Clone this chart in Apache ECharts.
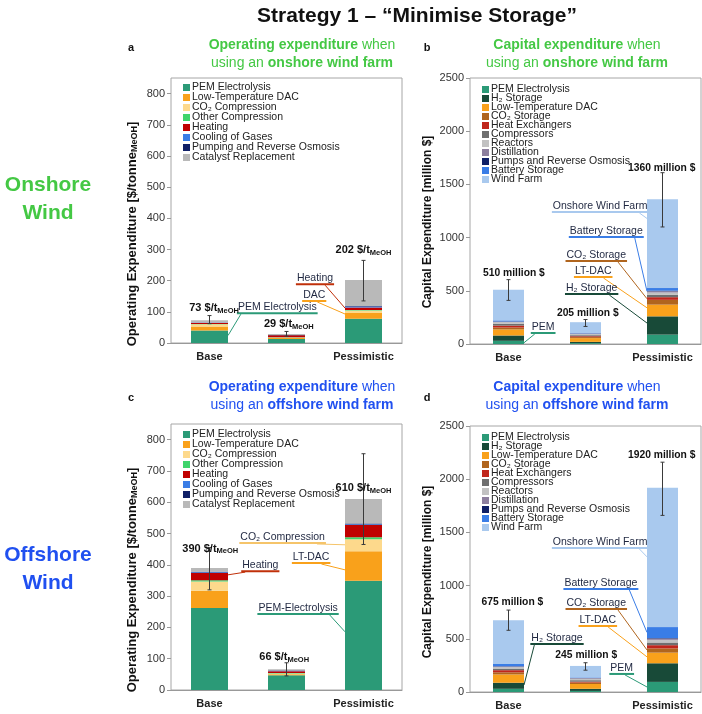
<!DOCTYPE html>
<html><head><meta charset="utf-8">
<script src="https://cdn.jsdelivr.net/npm/echarts@6/dist/echarts.min.js"></script>
<style>html,body{margin:0;padding:0;background:#fff}#c{width:702px;height:714px}</style>
</head><body><div id="c"></div>
<script>
// ---------------- DATA ----------------
const categories = ['Base', 'Optimistic', 'Pessimistic'];
const opexNames = ['PEM Electrolysis', 'Low-Temperature DAC', 'CO₂ Compression', 'Other Compression', 'Heating', 'Cooling of Gases', 'Pumping and Reverse Osmosis', 'Catalyst Replacement'];
const capexNames = ['PEM Electrolysis', 'H₂ Storage', 'Low-Temperature DAC', 'CO₂ Storage', 'Heat Exchangers', 'Compressors', 'Reactors', 'Distillation', 'Pumps and Reverse Osmosis', 'Battery Storage', 'Wind Farm'];

// (a) Opex, onshore wind, $/t MeOH — one row per opex component: [Base, Optimistic, Pessimistic]
const opexOnshore = [
  [40, 13, 78], [13, 3, 18], [7, 2, 8], [1, 0.5, 2],
  [3, 6, 8], [1, 0.5, 3], [1, 0.5, 2], [7, 3.5, 83]
];
// (c) Opex, offshore wind
const opexOffshore = [
  [262, 47, 349], [55, 3, 94], [30, 3, 39], [4, 1, 6],
  [23, 6, 39], [2, 1, 3], [2, 1, 2], [12, 4, 78]
];
// (b) Capex, onshore wind, million $ — one row per capex component
const capexOnshore = [
  [30, 8, 88], [50, 12, 172], [57, 35, 110], [18, 10, 45], [18, 8, 25], [18, 10, 22],
  [14, 12, 22], [4, 3, 12], [3, 2, 5], [10, 3, 25], [288, 102, 834]
];
// (d) Capex, offshore wind
const capexOffshore = [
  [30, 10, 95], [57, 20, 175], [78, 45, 100], [20, 14, 40], [20, 8, 30], [15, 14, 25],
  [14, 14, 25], [5, 5, 12], [3, 2, 5], [22, 5, 103], [411, 108, 1310]
];
// error bars [low, high]
const errOpexOnshore = [[62, 88], [22, 37], [135, 265]];
const errCapexOnshore = [[410, 605], [165, 230], [1100, 1610]];
const errOpexOffshore = [[320, 455], [45, 87], [465, 755]];
const errCapexOffshore = [[580, 770], [205, 275], [1660, 2160]];
// totals shown above bars
const totOpexOnshore = [73, 29, 202];
const totCapexOnshore = [510, 205, 1360];
const totOpexOffshore = [390, 66, 610];
const totCapexOffshore = [675, 245, 1920];
const opexTicks = [0, 100, 200, 300, 400, 500, 600, 700, 800];
const capexTicks = [0, 500, 1000, 1500, 2000, 2500];

// ---------------- STYLE ----------------
const FF = 'Liberation Sans, Arial, sans-serif';
const opexColors = ['#2b9a77', '#f9a11b', '#fdd98c', '#3fd46c', '#c00000', '#3a7de6', '#0f1f66', '#b9b9b9'];
const capexColors = ['#2b9a77', '#184a38', '#f9a11b', '#b0651e', '#c0261c', '#6f6f6f', '#c2c2c2', '#8d7f9e', '#0f1f66', '#3a7de6', '#a9c9ee'];
const GREEN = '#44c844', BLUE = '#2050f0';

const grids = [
  {left: 171, top: 78, width: 231, height: 265},
  {left: 470, top: 78, width: 231, height: 266},
  {left: 171, top: 424, width: 231, height: 266},
  {left: 470, top: 426, width: 231, height: 266}
];
const isOpex = [true, false, true, false];
const panelData = [opexOnshore, capexOnshore, opexOffshore, capexOffshore];
const panelErr = [errOpexOnshore, errCapexOnshore, errOpexOffshore, errCapexOffshore];
const barW = [37, 31, 37, 31];
const legendTop = [77, 79, 424, 427];

const series = [];
panelData.forEach((rows, g) => {
  const names = isOpex[g] ? opexNames : capexNames;
  const cols = isOpex[g] ? opexColors : capexColors;
  rows.forEach((vals, k) => {
    series.push({
      type: 'bar', name: names[k], xAxisIndex: g, yAxisIndex: g, stack: 'p' + g,
      barWidth: barW[g], data: vals, itemStyle: {color: cols[k]}, emphasis: {disabled: true}
    });
  });
  series.push({
    type: 'custom', xAxisIndex: g, yAxisIndex: g, z: 5,
    encode: {x: 0, y: [1, 2]},
    data: panelErr[g].map((e, j) => [j, e[0], e[1]]),
    renderItem: (params, api) => {
      const lo = api.coord([api.value(0), api.value(1)]);
      const hi = api.coord([api.value(0), api.value(2)]);
      const st = {stroke: '#3a3a3a', lineWidth: 1};
      return {type: 'group', children: [
        {type: 'line', shape: {x1: lo[0], y1: lo[1], x2: hi[0], y2: hi[1]}, style: st},
        {type: 'line', shape: {x1: lo[0] - 2, y1: lo[1], x2: lo[0] + 2, y2: lo[1]}, style: st},
        {type: 'line', shape: {x1: hi[0] - 2, y1: hi[1], x2: hi[0] + 2, y2: hi[1]}, style: st}
      ]};
    }
  });
});

const subRich = {s: {fontSize: 9, fontWeight: 'bold', fontFamily: FF, verticalAlign: 'bottom', lineHeight: 6}};
const subRichSmall = {s: {fontSize: 7.5, fontWeight: 'bold', fontFamily: FF, verticalAlign: 'bottom', lineHeight: 5}};

const option = {
  animation: false,
  grid: grids.map(g => Object.assign({show: true, borderColor: '#a6a6a6', borderWidth: 1, backgroundColor: 'transparent'}, g)),
  xAxis: grids.map((g, i) => ({
    type: 'category', gridIndex: i, data: categories,
    axisLine: {lineStyle: {color: '#999'}}, axisTick: {show: false},
    axisLabel: {fontFamily: FF, fontWeight: 'bold', fontSize: 11, color: '#222', margin: 8}
  })),
  yAxis: grids.map((g, i) => ({
    type: 'value', gridIndex: i, min: 0, max: isOpex[i] ? 850 : 2500, interval: isOpex[i] ? 100 : 500,
    splitLine: {show: false}, axisLine: {show: false},
    axisTick: {show: true, length: 4, lineStyle: {color: '#999'},
      customValues: isOpex[i] ? opexTicks : capexTicks},
    axisLabel: {fontFamily: FF, fontSize: 11, color: '#333', margin: 6, showMaxLabel: true,
      customValues: isOpex[i] ? opexTicks : capexTicks, formatter: v => String(v)}
  })),
  legend: grids.map((g, i) => ({
    orient: 'vertical', left: g.left + 7, top: legendTop[i],
    data: isOpex[i] ? opexNames : capexNames,
    icon: 'rect', itemWidth: 7, itemHeight: 7, itemGap: isOpex[i] ? -1 : -2,
    selectedMode: false,
    textStyle: {fontFamily: FF, fontSize: 10.5, color: '#222', lineHeight: isOpex[i] ? 10 : 9, padding: [0, 0, 0, -3]}
  })),
  series: series
};

const chart = echarts.init(document.getElementById('c'), null, {renderer: 'canvas'});
chart.setOption(option);

// ---------------- ANNOTATIONS ----------------
const ctx = document.createElement('canvas').getContext('2d');
function tw(font, s) { ctx.font = font; return ctx.measureText(s).width; }
function px(g, c, v) {
  const x0 = chart.convertToPixel({xAxisIndex: g}, categories[0]);
  const x1 = chart.convertToPixel({xAxisIndex: g}, categories[1]);
  const y = chart.convertToPixel({yAxisIndex: g}, v);
  return [x0 + c * (x1 - x0), y];
}
const gfx = [];
function txt(x, y, text, opts, rot) {
  gfx.push({type: 'text', x: x, y: y, rotation: rot || 0, silent: true, z: 100,
    style: Object.assign({text: text, fill: '#111', fontFamily: FF, fontSize: 12, align: 'center', verticalAlign: 'middle'}, opts)});
}
// main title
txt(417, 16, 'Strategy 1 – “Minimise Storage”', {fontSize: 21, fontWeight: 'bold'});
// panel letters
[['a', 131, 48], ['b', 427, 48], ['c', 131, 398], ['d', 427, 398]].forEach(p => txt(p[1], p[2], p[0], {fontSize: 11, fontWeight: 'bold'}));
// panel titles
function ptitle(x, y, kind, where, col) {
  txt(x, y, '{b|' + kind + '} when\nusing an {b|' + where + ' wind farm}', {
    fontSize: 14, fill: col, lineHeight: 18,
    rich: {b: {fontWeight: 'bold', fontSize: 14, fill: col, fontFamily: FF}}
  });
}
ptitle(302, 54, 'Operating expenditure', 'onshore', GREEN);
ptitle(577, 54, 'Capital expenditure', 'onshore', GREEN);
ptitle(302, 396, 'Operating expenditure', 'offshore', BLUE);
ptitle(577, 396, 'Capital expenditure', 'offshore', BLUE);
// side labels
txt(48, 199, 'Onshore\nWind', {fontSize: 21, fontWeight: 'bold', fill: GREEN, lineHeight: 28});
txt(48, 569, 'Offshore\nWind', {fontSize: 21, fontWeight: 'bold', fill: BLUE, lineHeight: 28});
// axis titles
const opexTitle = 'Operating Expenditure [$/tonne{s|MeOH}]';
const capexTitle = 'Capital Expenditure [million $]';
txt(132, 234, opexTitle, {fontSize: 13, fontWeight: 'bold', lineHeight: 15, rich: subRich}, Math.PI / 2);
txt(428, 222, capexTitle, {fontSize: 12, fontWeight: 'bold'}, Math.PI / 2);
txt(132, 580, opexTitle, {fontSize: 13, fontWeight: 'bold', lineHeight: 15, rich: subRich}, Math.PI / 2);
txt(428, 572, capexTitle, {fontSize: 12, fontWeight: 'bold'}, Math.PI / 2);

// totals
const totals = [totOpexOnshore, totCapexOnshore, totOpexOffshore, totCapexOffshore];
const totPos = [
  [[0.06, 112], [0.03, 61], [0.0, 298]],
  [[0.07, 667], [0.03, 291], [-0.01, 1654]],
  [[0.01, 452], [-0.03, 105], [0.0, 645]],
  [[0.05, 846], [0.01, 348], [-0.01, 2227]]
];
totals.forEach((arr, g) => arr.forEach((t, j) => {
  const p = px(g, j + totPos[g][j][0], totPos[g][j][1]);
  if (isOpex[g]) {
    txt(p[0], p[1], t + ' $/t{s|MeOH}', {fontSize: 11, fontWeight: 'bold', lineHeight: 13, rich: subRichSmall});
  } else {
    txt(p[0], p[1], t + ' million $', {fontSize: 10.3, fontWeight: 'bold'});
  }
}));

// callouts: panel, text, [cat, value] of text centre, colour, target [cat, value]
const callouts = [
  [0, 'PEM Electrolysis', [0.88, 115], opexColors[0], [0, 24]],
  [0, 'Heating', [1.37, 208], '#c0300a', [2, 112]],
  [0, 'DAC', [1.36, 154], opexColors[1], [2, 93]],
  [1, 'PEM', [0.45, 160], capexColors[0], [0, 12]],
  [1, 'H₂ Storage', [1.08, 526], capexColors[1], [2, 197]],
  [1, 'LT-DAC', [1.10, 686], capexColors[2], [2, 340]],
  [1, 'CO₂ Storage', [1.14, 836], capexColors[3], [2, 425]],
  [1, 'Battery Storage', [1.27, 1062], capexColors[9], [2, 495]],
  [1, 'Onshore Wind Farm', [1.19, 1297], capexColors[10], [2, 1180]],
  [2, 'Heating', [0.66, 399], '#c0300a', [0, 368]],
  [2, 'CO₂ Compression', [0.95, 489], '#f5c46a', [2, 464]],
  [2, 'LT-DAC', [1.32, 425], opexColors[1], [2, 384]],
  [2, 'PEM-Electrolysis', [1.15, 262], opexColors[0], [2, 186]],
  [3, 'H₂ Storage', [0.63, 507], capexColors[1], [0, 66]],
  [3, 'PEM', [1.47, 226], capexColors[0], [2, 47]],
  [3, 'LT-DAC', [1.16, 677], capexColors[2], [2, 330]],
  [3, 'CO₂ Storage', [1.14, 836], capexColors[3], [2, 395]],
  [3, 'Battery Storage', [1.20, 1024], capexColors[9], [2, 560]],
  [3, 'Onshore Wind Farm', [1.19, 1410], capexColors[10], [2, 1270]]
];
const CF = '10.5px Liberation Sans';
callouts.forEach(c => {
  const [g, text, pos, col, tgt] = c;
  const p = px(g, pos[0], pos[1]);
  const w = tw(CF, text);
  txt(p[0], p[1], text, {fontSize: 10.5, fill: '#1f2740'});
  const uy = p[1] + 6;
  gfx.push({type: 'line', silent: true, z: 99, shape: {x1: p[0] - w / 2 - 1, y1: uy, x2: p[0] + w / 2 + 1, y2: uy}, style: {stroke: col, lineWidth: 2}});
  const t = px(g, tgt[0], tgt[1]);
  const toRight = t[0] > p[0];
  const tx = t[0] + (toRight ? -barW[g] / 2 : barW[g] / 2);
  const sx = toRight ? p[0] + w / 2 - 8 : p[0] - w / 2 + 3;
  gfx.push({type: 'line', silent: true, z: 99, shape: {x1: sx, y1: uy + 1, x2: tx, y2: t[1]}, style: {stroke: col, lineWidth: 1}});
});
chart.setOption({graphic: {elements: gfx}});
</script>
</body></html>
